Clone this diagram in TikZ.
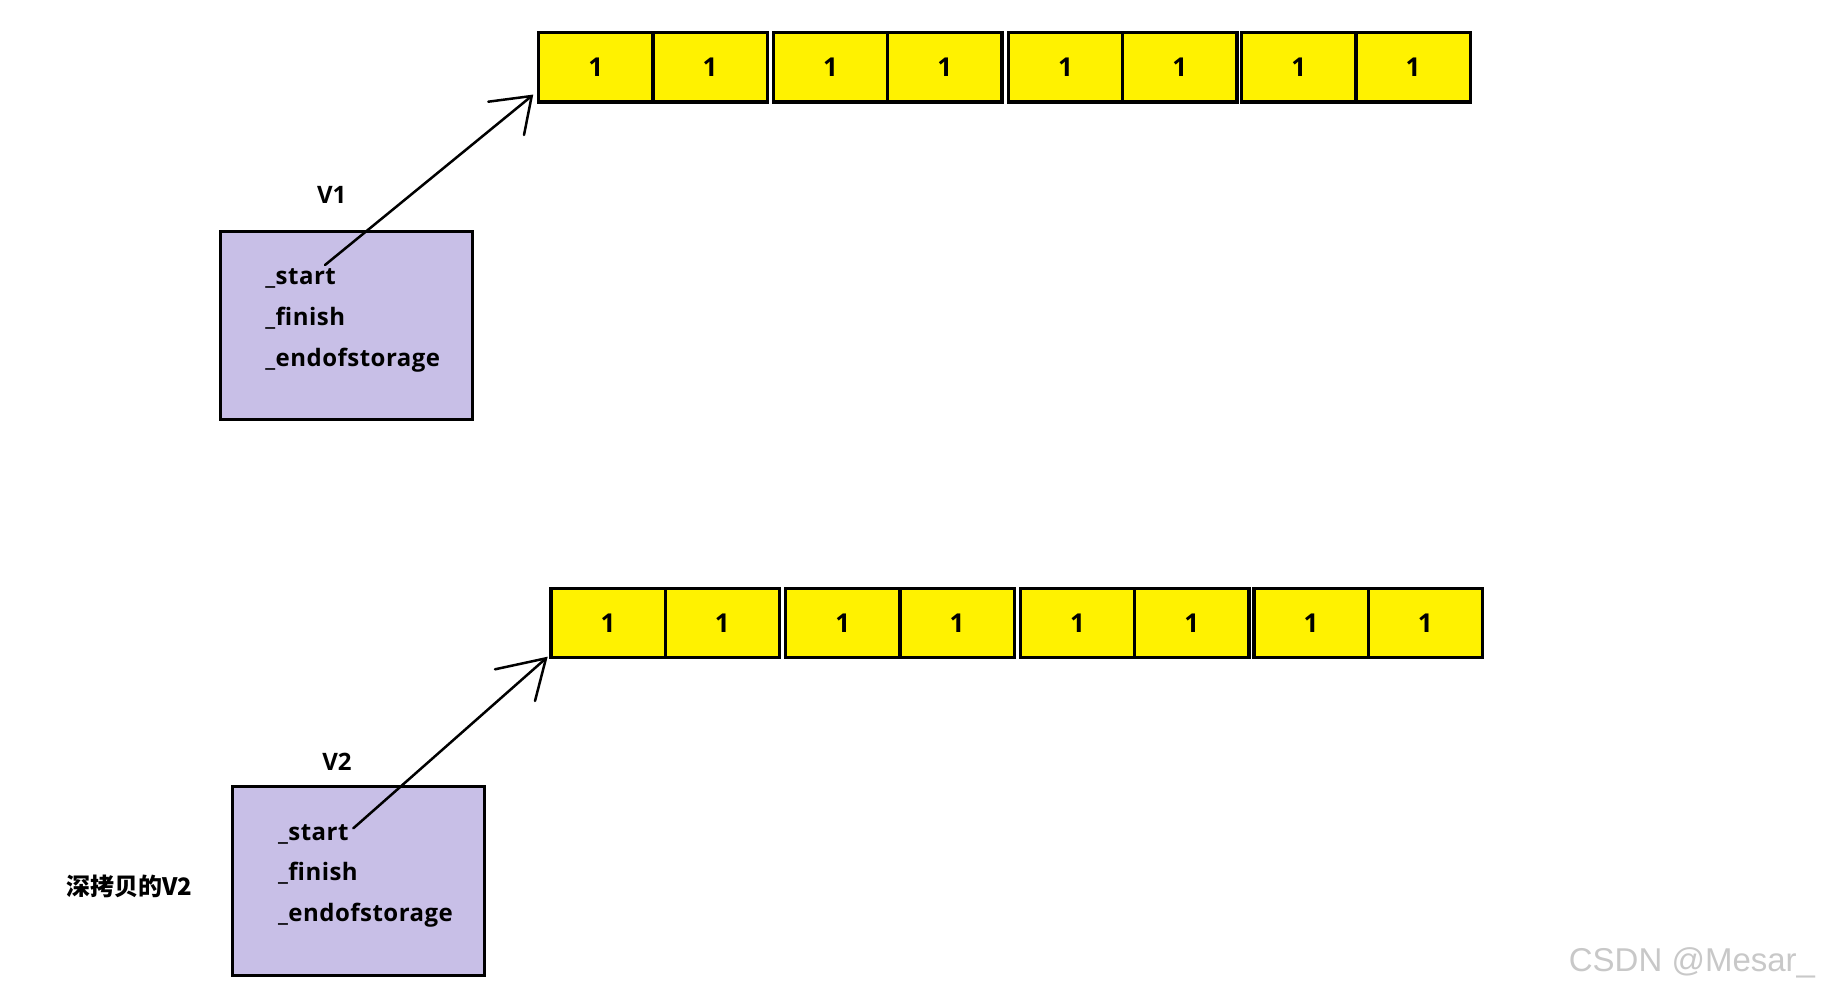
\documentclass[tikz,border=0pt]{standalone}
\usepackage{fontspec}
\setmainfont{Open Sans}
\newfontfamily\cjk{Noto Sans CJK SC}
\newfontfamily\wmfont{Liberation Sans}
\definecolor{cellyellow}{RGB}{255,242,0}
\definecolor{boxlav}{RGB}{200,191,231}
\definecolor{wmgray}{RGB}{200,200,200}
\begin{document}
\begin{tikzpicture}[x=0.5pt,y=-0.5pt,
  cell/.style={draw=black, fill=cellyellow, line width=1.7pt, minimum width=57.15pt,
    minimum height=34.75pt, inner sep=0pt, outer sep=0pt,
    font=\fontsize{13}{15}\selectfont\bfseries},
  vbox/.style={draw=black, fill=boxlav, line width=1.5pt, minimum width=126pt,
    minimum height=94.2pt, inner sep=0pt, outer sep=0pt},
  field/.style={anchor=base west, inner sep=0pt,
    font=\fontsize{12}{14}\selectfont\bfseries\addfontfeature{LetterSpace=2}},
  vlabel/.style={inner sep=0pt, font=\fontsize{12}{14}\selectfont\bfseries},
  ptr/.style={draw=black, line width=1.25pt, line cap=round}]
\useasboundingbox (0,0) rectangle (1821,992);

% top array
\foreach \p [count=\i] in {538.7,773.4,1008.4,1241.7} {
  \node[cell] (ta\i) at (\p+57.15,67.2) {1};
  \node[cell] (tb\i) at (\p+171.45,67.2) {1};
}
% bottom array
\foreach \p [count=\i] in {550.9,785.6,1020.3,1253.9} {
  \node[cell] (ba\i) at (\p+57.15,623) {1};
  \node[cell] (bb\i) at (\p+171.45,623) {1};
}

% V1
\node[vbox] (v1) at (346.65,325.35) {};
\node[vlabel] (v1lab) at (331.7,195) {V1};
\node[field] (v1s) at (265,284) {\_start};
\node[field] (v1f) at (265,325) {\_finish};
\node[field] (v1e) at (265,366) {\_endofstorage};

% V2
\node[vbox] (v2) at (358.5,881.15) {};
\node[vlabel] (v2lab) at (337,761.7) {V2};
\node[field] (v2s) at (277.7,840.7) {\_start};
\node[field] (v2f) at (277.7,880.7) {\_finish};
\node[field] (v2e) at (277.7,921.7) {\_endofstorage};

\node[anchor=west, inner sep=0pt, font=\cjk\fontsize{12}{14}\selectfont\bfseries] (deep) at (66,886) {深拷贝的V2};

% pointers
\coordinate (s1) at (325,265);
\coordinate (t1) at (531.7,96);
\coordinate (h1a) at (488.3,101.7);
\coordinate (h1b) at (524,135);
\draw[ptr] (s1) -- (t1);
\draw[ptr] (h1a) -- (t1) -- (h1b);

\coordinate (s2) at (353.3,828.3);
\coordinate (t2) at (546,658.3);
\coordinate (h2a) at (495,669.3);
\coordinate (h2b) at (535,701);
\draw[ptr] (s2) -- (t2);
\draw[ptr] (h2a) -- (t2) -- (h2b);

% watermark
\node[inner sep=0pt, text=wmgray, font=\wmfont\fontsize{16.5}{18}\selectfont] (wm) at (1692,962.5) {CSDN @Mesar\_};
\end{tikzpicture}
\end{document}
